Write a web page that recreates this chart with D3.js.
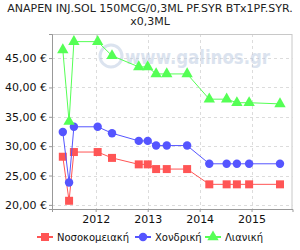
<!DOCTYPE html>
<html><head><meta charset="utf-8">
<script src="https://cdn.jsdelivr.net/npm/d3@7"></script>
<style>body{margin:0;background:#fff}svg{display:block;font-family:"DejaVu Sans",sans-serif}</style>
</head><body>
<svg id="c" width="300" height="250"></svg>
<script>
const dates = ["2011-05-15","2011-06-28","2011-08-01","2012-01-15","2012-04-25","2012-10-30","2013-01-01","2013-03-01","2013-05-15","2013-10-05","2014-03-10","2014-07-10","2014-09-20","2014-12-15","2015-07-20"];
const hospital = [28.2,20.7,29.0,29.0,28.0,26.9,26.9,26.1,26.1,26.1,23.5,23.5,23.5,23.5,23.5];
const wholesale = [32.4,23.8,33.3,33.3,32.2,30.9,30.9,30.1,30.1,30.1,27.0,27.0,27.0,27.0,27.0];
const retail = [46.4,34.2,47.8,47.8,45.4,43.5,43.5,42.3,42.3,42.3,38.0,38.0,37.4,37.4,37.2];
const seriesNames = ["Νοσοκομειακή","Χονδρική","Λιανική"];
const yTicks = [20,25,30,35,40,45];
const xTicks = ["2012","2013","2014","2015"];
const colors = ["#ff5555","#5555ff","#55ff55"];
const shapes = [d3.symbolSquare, d3.symbolCircle, d3.symbolTriangle];
const symSizes = [64, 56, 56];

const svg = d3.select("#c");
const L=52, R=292.5, T=34, B=209;
const parse = d3.timeParse("%Y-%m-%d");
const x = d3.scaleTime().domain([parse("2011-02-28"), parse("2015-10-16")]).range([L,R]);
const y = d3.scaleLinear().domain([19.3,49.1]).range([B,T]);

// title
const title = svg.append("g").attr("fill","#222").attr("font-size",11).attr("text-anchor","middle");
title.append("text").attr("x",150).attr("y",12).text("ANAPEN INJ.SOL 150MCG/0,3ML PF.SYR BTx1PF.SYR.");
title.append("text").attr("x",150).attr("y",25).text("x0,3ML");

// gridlines
const grid = svg.append("g").attr("stroke","#dcdcdc").attr("stroke-dasharray","3,3").attr("stroke-width",1);
yTicks.forEach(v=>grid.append("line").attr("x1",L).attr("x2",R).attr("y1",Math.round(y(v))+0.5).attr("y2",Math.round(y(v))+0.5));
xTicks.forEach(t=>{const xx=Math.round(x(parse(t+"-01-01")))+0.5; grid.append("line").attr("x1",xx).attr("x2",xx).attr("y1",T).attr("y2",B);});

// watermark
const wm = svg.append("g").attr("opacity",0.5);
wm.append("circle").attr("cx",111).attr("cy",56).attr("r",11).attr("fill","none").attr("stroke","#b8c8e0").attr("stroke-width",3);
wm.append("text").attr("x",125).attr("y",64).attr("font-size",19).attr("font-weight","bold").attr("fill","#b8c8e0")
  .attr("textLength",145).attr("lengthAdjust","spacingAndGlyphs").text("www.galinos.gr");

// frame
svg.append("rect").attr("x",L+0.5).attr("y",T+0.5).attr("width",R-L-1).attr("height",B-T).attr("fill","none").attr("stroke","#c8c8c8");

// axes
const yAxis = d3.axisLeft(y).tickValues(yTicks).tickSize(3).tickFormat(d=>d3.format(".2f")(d).replace(".",",")+" €");
const gy = svg.append("g").attr("transform",`translate(${L},0)`).call(yAxis);
const xAxis = d3.axisBottom(x).tickValues(xTicks.map(t=>parse(t+"-01-01"))).tickSize(3).tickFormat(d3.timeFormat("%Y"));
const gx = svg.append("g").attr("transform",`translate(0,${B})`).call(xAxis);
[gx,gy].forEach(g=>{g.select(".domain").attr("stroke","#999");g.selectAll(".tick line").attr("stroke","#999");g.selectAll("text").attr("fill","#111").attr("font-size",11).attr("font-family","DejaVu Sans");});
gy.selectAll("text").attr("x",-5);
gx.selectAll("text").attr("y",6);

// series
const data = [hospital, wholesale, retail];
data.forEach((vals,i)=>{
  const pts = vals.map((v,j)=>[x(parse(dates[j])), y(v)]);
  svg.append("path").attr("d",d3.line()(pts)).attr("fill","none").attr("stroke",colors[i]).attr("stroke-width",1);
  svg.append("g").selectAll("path").data(pts).join("path")
    .attr("transform",d=>`translate(${d[0]},${d[1]})`)
    .attr("d",d3.symbol().type(shapes[i]).size(symSizes[i]))
    .attr("fill",colors[i]);
});

// legend
const legX = [37,135,205];
const lg = svg.append("g");
seriesNames.forEach((n,i)=>{
  const g = lg.append("g").attr("transform",`translate(${legX[i]},237)`);
  g.append("line").attr("x1",0).attr("x2",16).attr("stroke",colors[i]).attr("stroke-width",2);
  g.append("path").attr("transform","translate(8,0)").attr("d",d3.symbol().type(shapes[i]).size(symSizes[i])).attr("fill",colors[i]);
  g.append("text").attr("x",20).attr("y",4).attr("font-size",10).attr("fill","#111").text(n);
});
</script>
</body></html>
